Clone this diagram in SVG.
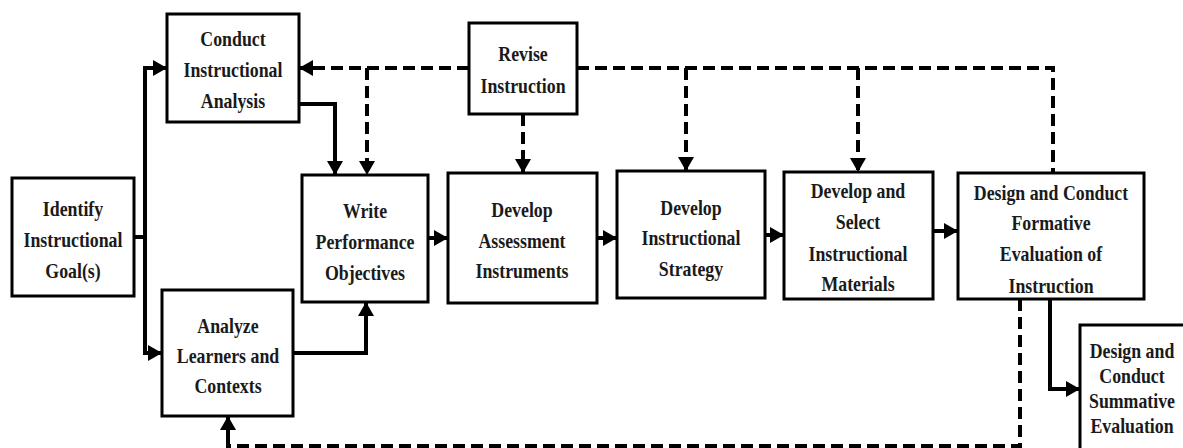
<svg xmlns="http://www.w3.org/2000/svg" width="1183" height="448" viewBox="0 0 1183 448">
<style>
.box{fill:#fff;stroke:#000;stroke-width:3}
.lbl{font-family:"Liberation Serif","Times New Roman",serif;font-weight:bold;font-size:22px;fill:#1a1a1a}
.solid{fill:none;stroke:#000;stroke-width:4}
.dash{fill:none;stroke:#000;stroke-width:4;stroke-dasharray:12 6}
</style>
<defs>
<marker id="ah" markerUnits="userSpaceOnUse" markerWidth="14" markerHeight="16" refX="13" refY="8" orient="auto">
<path d="M0,0 L14,8 L0,16 Z" fill="#000"/>
</marker>
</defs>
<rect width="1183" height="448" fill="#fff"/>
<g id="connectors">
<path class="solid" d="M134,237 H145 V68 H166" marker-end="url(#ah)"/>
<path class="solid" d="M145,237 V353 H161" marker-end="url(#ah)"/>
<path class="solid" d="M299,104 H335 V174" marker-end="url(#ah)"/>
<path class="solid" d="M293,353 H366 V303" marker-end="url(#ah)"/>
<path class="solid" d="M428,238 H447" marker-end="url(#ah)"/>
<path class="solid" d="M597,238 H616" marker-end="url(#ah)"/>
<path class="solid" d="M765,235 H783" marker-end="url(#ah)"/>
<path class="solid" d="M933,231 H957" marker-end="url(#ah)"/>
<path class="solid" d="M1050,299 V389 H1079" marker-end="url(#ah)"/>
<path class="dash" d="M469,68 H300" marker-end="url(#ah)"/>
<path class="dash" d="M367,68 V174" marker-end="url(#ah)"/>
<path class="dash" d="M523,114 V172" marker-end="url(#ah)"/>
<path class="dash" d="M577,68 H1053 V173"/>
<path class="dash" d="M686,68 V170" marker-end="url(#ah)"/>
<path class="dash" d="M858,68 V171" marker-end="url(#ah)"/>
<path class="dash" d="M1020,299 V446 H230"/>
<path class="solid" d="M228,448 V417" marker-end="url(#ah)"/>
</g>
<g id="identify">
<rect class="box" x="12" y="178" width="122" height="118"/>
<text class="lbl" text-anchor="middle" transform="translate(73,0) scale(0.81,1)"><tspan x="0" y="216">Identify</tspan><tspan x="0" y="247">Instructional</tspan><tspan x="0" y="278">Goal(s)</tspan></text>
</g>
<g id="conduct-analysis">
<rect class="box" x="167" y="14" width="132" height="108"/>
<text class="lbl" text-anchor="middle" transform="translate(233,0) scale(0.81,1)"><tspan x="0" y="46">Conduct</tspan><tspan x="0" y="77">Instructional</tspan><tspan x="0" y="108">Analysis</tspan></text>
</g>
<g id="analyze-learners">
<rect class="box" x="162" y="290" width="131" height="126"/>
<text class="lbl" text-anchor="middle" transform="translate(228,0) scale(0.81,1)"><tspan x="0" y="333">Analyze</tspan><tspan x="0" y="363">Learners and</tspan><tspan x="0" y="393">Contexts</tspan></text>
</g>
<g id="write-objectives">
<rect class="box" x="302" y="175" width="126" height="127"/>
<text class="lbl" text-anchor="middle" transform="translate(365,0) scale(0.81,1)"><tspan x="0" y="218">Write</tspan><tspan x="0" y="249">Performance</tspan><tspan x="0" y="280">Objectives</tspan></text>
</g>
<g id="revise">
<rect class="box" x="469" y="23" width="108" height="91"/>
<text class="lbl" text-anchor="middle" transform="translate(523,0) scale(0.81,1)"><tspan x="0" y="61">Revise</tspan><tspan x="0" y="93">Instruction</tspan></text>
</g>
<g id="assessment">
<rect class="box" x="448" y="173" width="149" height="130"/>
<text class="lbl" text-anchor="middle" transform="translate(522,0) scale(0.81,1)"><tspan x="0" y="217">Develop</tspan><tspan x="0" y="248">Assessment</tspan><tspan x="0" y="278">Instruments</tspan></text>
</g>
<g id="strategy">
<rect class="box" x="617" y="171" width="148" height="127"/>
<text class="lbl" text-anchor="middle" transform="translate(691,0) scale(0.81,1)"><tspan x="0" y="215">Develop</tspan><tspan x="0" y="245">Instructional</tspan><tspan x="0" y="276">Strategy</tspan></text>
</g>
<g id="materials">
<rect class="box" x="784" y="172" width="149" height="127"/>
<text class="lbl" text-anchor="middle" transform="translate(858,0) scale(0.81,1)"><tspan x="0" y="198">Develop and</tspan><tspan x="0" y="229">Select</tspan><tspan x="0" y="261">Instructional</tspan><tspan x="0" y="291">Materials</tspan></text>
</g>
<g id="formative">
<rect class="box" x="958" y="173" width="186" height="126"/>
<text class="lbl" text-anchor="middle" transform="translate(1051,0) scale(0.81,1)"><tspan x="0" y="200">Design and Conduct</tspan><tspan x="0" y="230">Formative</tspan><tspan x="0" y="261">Evaluation of</tspan><tspan x="0" y="293">Instruction</tspan></text>
</g>
<g id="summative">
<rect class="box" x="1080" y="325" width="110" height="140"/>
<text class="lbl" text-anchor="middle" transform="translate(1132,0) scale(0.81,1)"><tspan x="0" y="358">Design and</tspan><tspan x="0" y="383">Conduct</tspan><tspan x="0" y="408">Summative</tspan><tspan x="0" y="433">Evaluation</tspan></text>
</g>
</svg>
